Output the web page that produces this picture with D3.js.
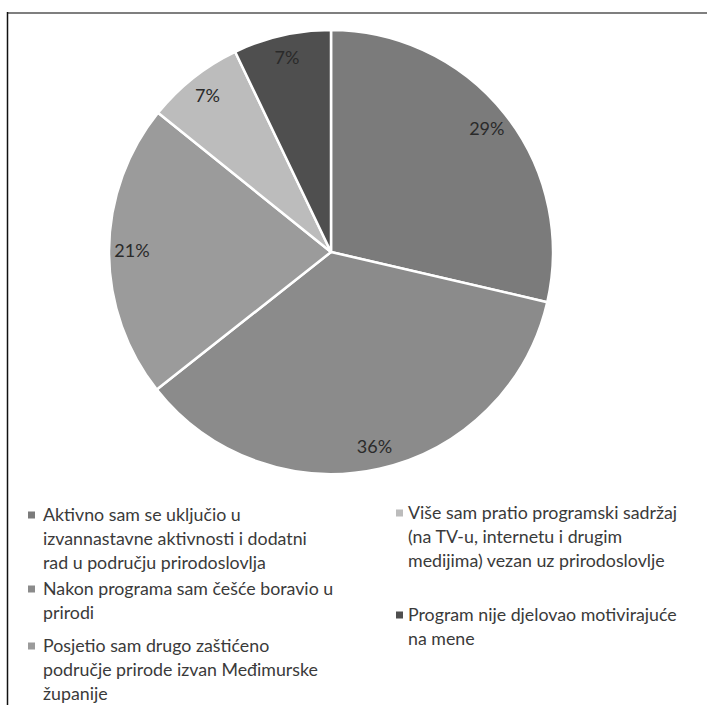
<!DOCTYPE html>
<html>
<head>
<meta charset="utf-8">
<script src="https://cdn.jsdelivr.net/npm/d3@7"></script>
<style>
  html, body { margin: 0; padding: 0; background: #fff; }
  svg { display: block; }
</style>
</head>
<body>
<svg id="chart" width="707" height="705"></svg>
<script>
// ---- data ----
const categories = [
  "Aktivno sam se uključio u izvannastavne aktivnosti i dodatni rad u području prirodoslovlja",
  "Nakon programa sam češće boravio u prirodi",
  "Posjetio sam drugo zaštićeno područje prirode izvan Međimurske županije",
  "Više sam pratio programski sadržaj (na TV-u, internetu i drugim medijima) vezan uz prirodoslovlje",
  "Program nije djelovao motivirajuće na mene"
];
const values = [28.6, 35.7, 21.4, 7.1, 7.1];
const legendLines = [
  ["Aktivno sam se uključio u", "izvannastavne aktivnosti i dodatni", "rad u području prirodoslovlja"],
  ["Nakon programa sam češće boravio u", "prirodi"],
  ["Posjetio sam drugo zaštićeno", "područje prirode izvan Međimurske", "županije"],
  ["Više sam pratio programski sadržaj", "(na TV-u, internetu i drugim", "medijima) vezan uz prirodoslovlje"],
  ["Program nije djelovao motivirajuće", "na mene"]
];
const colors = ["#7b7b7b", "#8b8b8b", "#9b9b9b", "#bcbcbc", "#4f4f4f"];

// ---- layout ----
const svg = d3.select("#chart");
const W = 707, H = 705;
const cx = 331, cy = 252, R = 222, labelR = 199;
const font = "Lato, 'Open Sans', sans-serif";

// frame lines
svg.append("line").attr("x1", 7).attr("x2", 707).attr("y1", 13).attr("y2", 13)
  .attr("stroke", "#7f7f7f").attr("stroke-width", 2);
svg.append("line").attr("x1", 7.5).attr("x2", 7.5).attr("y1", 12).attr("y2", H)
  .attr("stroke", "#111").attr("stroke-width", 1.5);

const pie = d3.pie().sort(null).value(d => d)(values);
const arc = d3.arc().innerRadius(0).outerRadius(R);
const labelArc = d3.arc().innerRadius(labelR).outerRadius(labelR);
const color = d3.scaleOrdinal().domain(d3.range(values.length)).range(colors);
const fmt = d3.format(".0%");

const g = svg.append("g").attr("transform", `translate(${cx},${cy})`);
g.selectAll("path.slice").data(pie).join("path")
  .attr("class", "slice")
  .attr("d", arc)
  .attr("fill", (d, i) => color(i))
  .attr("stroke", "#fff")
  .attr("stroke-width", 2.5)
  .attr("stroke-linejoin", "round");

g.selectAll("text.lbl").data(pie).join("text")
  .attr("class", "lbl")
  .attr("transform", d => `translate(${labelArc.centroid(d)})`)
  .attr("text-anchor", "middle")
  .attr("dy", "0.35em")
  .attr("font-family", font)
  .attr("font-size", 18)
  .attr("fill", "#2a2a2a")
  .text(d => fmt(d.value / 100));

// legend
const lineH = 24;
const colX = [28, 396];
const textX = [43, 408];
const itemPos = [
  { col: 0, y: 515 }, { col: 0, y: 589 }, { col: 0, y: 646 },
  { col: 1, y: 513 }, { col: 1, y: 615 }
];
const leg = svg.append("g");
legendLines.forEach((lines, i) => {
  const p = itemPos[i];
  leg.append("rect")
    .attr("x", colX[p.col]).attr("y", p.y - 3.5)
    .attr("width", 7).attr("height", 7)
    .attr("fill", color(i));
  const t = leg.append("text")
    .attr("font-family", font)
    .attr("font-size", 17.8)
    .attr("fill", "#3a3a3a");
  lines.forEach((ln, k) => {
    t.append("tspan").attr("x", textX[p.col]).attr("y", p.y + k * lineH).attr("dy", "0.35em").text(ln);
  });
});
</script>
</body>
</html>
